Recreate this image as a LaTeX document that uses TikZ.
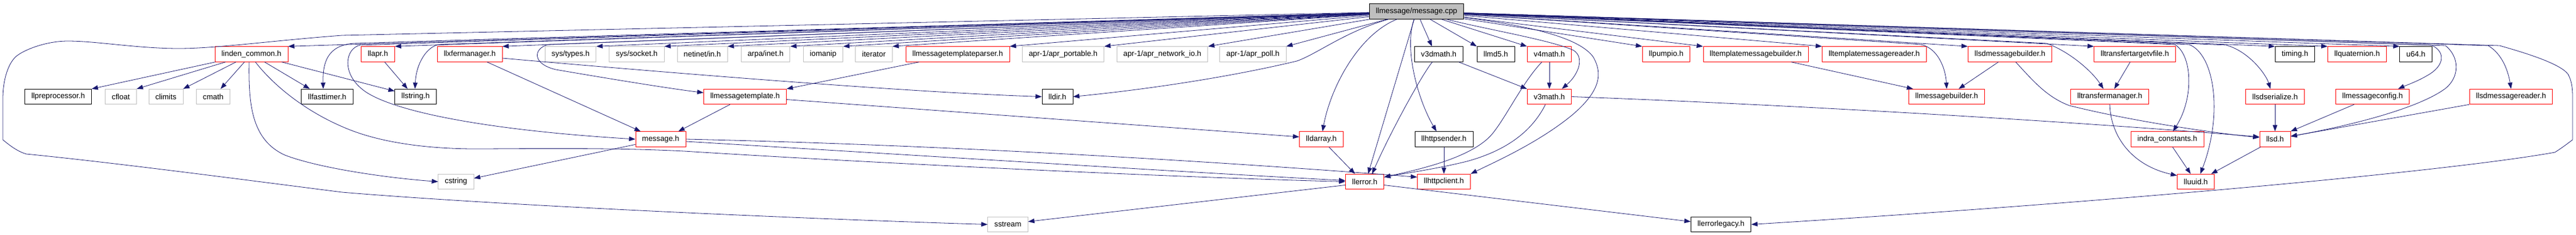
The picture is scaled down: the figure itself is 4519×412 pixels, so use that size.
\documentclass[tikz,border=0pt]{standalone}
\usepackage{fontspec}
\setmainfont{Liberation Sans}
\usetikzlibrary{arrows.meta}
\definecolor{edgeblue}{RGB}{25,25,112}
\definecolor{sysgray}{RGB}{191,191,191}
\begin{document}
\begin{tikzpicture}[x=1pt,y=-1pt,
  box/.style={draw, line width=0.9pt, inner xsep=11.5pt, inner ysep=0pt, minimum height=26.5pt, font=\fontsize{13.3}{15}\selectfont, text=black},
  redbox/.style={box, draw=red},
  blkbox/.style={box, draw=black},
  grybox/.style={box, draw=sysgray},
  rootbox/.style={box, draw=black, fill=sysgray},
  edge/.style={draw=edgeblue, line width=0.8pt, -{Triangle[length=11pt,width=8pt]}}
]
\useasboundingbox (0,0) rectangle (4519,412);
% root
\node[rootbox] (root) at (2485,20) {llmessage/message.cpp};
% row 1
\node[redbox] (lc) at (441,95) {linden\_common.h};
\node[redbox] (apr) at (663,95) {llapr.h};
\node[redbox] (xfer) at (824,95) {llxfermanager.h};
\node[grybox] (systypes) at (1001,95) {sys/types.h};
\node[grybox] (syssock) at (1117,95) {sys/socket.h};
\node[grybox] (netin) at (1232,95) {netinet/in.h};
\node[grybox] (arpa) at (1343,95) {arpa/inet.h};
\node[grybox] (iomanip) at (1444,95) {iomanip};
\node[grybox] (iterator) at (1533,95) {iterator};
\node[redbox] (mtp) at (1680,95) {llmessagetemplateparser.h};
\node[grybox] (aprport) at (1865,95) {apr-1/apr\_portable.h};
\node[grybox] (aprnet) at (2039,95) {apr-1/apr\_network\_io.h};
\node[grybox] (aprpoll) at (2198,95) {apr-1/apr\_poll.h};
\node[blkbox] (v3d) at (2524,95) {v3dmath.h};
\node[blkbox] (md5) at (2624,95) {llmd5.h};
\node[redbox] (v4) at (2718,95) {v4math.h};
\node[redbox] (pump) at (2923,95) {llpumpio.h};
\node[redbox] (tmb) at (3080,95) {lltemplatemessagebuilder.h};
\node[redbox] (tmr) at (3288,95) {lltemplatemessagereader.h};
\node[redbox] (sdmb) at (3526,95) {llsdmessagebuilder.h};
\node[redbox] (ttv) at (3745,95) {lltransfertargetvfile.h};
\node[blkbox] (timing) at (4026,95) {timing.h};
\node[redbox] (quat) at (4135,95) {llquaternion.h};
\node[blkbox] (u64) at (4238,95) {u64.h};
% row 2
\node[blkbox] (pre) at (102,169.5) {llpreprocessor.h};
\node[grybox] (cfloat) at (212,169.5) {cfloat};
\node[grybox] (climits) at (291,169.5) {climits};
\node[grybox] (cmath) at (374,169.5) {cmath};
\node[blkbox] (fast) at (574,169.5) {llfasttimer.h};
\node[blkbox] (str) at (729,169.5) {llstring.h};
\node[redbox] (mt) at (1307,169.5) {llmessagetemplate.h};
\node[blkbox] (dir) at (1855,169.5) {lldir.h};
\node[redbox] (v3) at (2718,169.5) {v3math.h};
\node[redbox] (mb) at (3415,169.5) {llmessagebuilder.h};
\node[redbox] (tm) at (3701,169.5) {lltransfermanager.h};
\node[redbox] (sdser) at (3991,169.5) {llsdserialize.h};
\node[redbox] (mcfg) at (4162,169.5) {llmessageconfig.h};
\node[redbox] (sdmr) at (4405,169.5) {llsdmessagereader.h};
% row 3
\node[redbox] (msgh) at (1159,244) {message.h};
\node[redbox] (darray) at (2318,244) {lldarray.h};
\node[blkbox] (hsend) at (2533,244) {llhttpsender.h};
\node[redbox] (indra) at (3802,244) {indra\_constants.h};
\node[redbox] (llsd) at (3991,244) {llsd.h};
% row 4
\node[grybox] (cstring) at (800,318.5) {cstring};
\node[redbox] (err) at (2394,318.5) {llerror.h};
\node[redbox] (hclient) at (2533,318.5) {llhttpclient.h};
\node[redbox] (uuid) at (3852,318.5) {lluuid.h};
% row 5
\node[grybox] (sstream) at (1768,393.5) {sstream};
\node[blkbox] (errleg) at (3019,393.5) {llerrorlegacy.h};

% root -> top row (straight)
\foreach \t in {lc,apr,xfer,systypes,syssock,netin,arpa,iomanip,iterator,mtp,aprport,aprnet,aprpoll}
  \draw[edge] (root) -- (\t.north east);
\foreach \t in {md5,v4,pump,tmb,tmr,sdmb,ttv,timing,quat,u64}
  \draw[edge] (root) -- (\t.north west);
\draw[edge] (root) -- ([xshift=-12pt]v3d.north);

% root -> lower nodes (curved)
\draw[edge] (root) -- (620,76) .. controls (574,80) and (566,110) .. ([xshift=-7pt]fast.north);
\draw[edge] (root) -- (770,78) .. controls (748,82) and (730,112) .. ([xshift=-1pt]str.north);
\draw[edge] (root) -- (632,79) .. controls (605,85) and (598,130) .. (640,160) .. controls (690,195) and (850,228) .. (msgh.west);
\draw[edge] (root) -- (962,78) .. controls (935,85) and (933,112) .. (975,122) .. controls (1080,140) and (1180,156) .. ([yshift=7pt]mt.west);
\draw[edge] (root) -- (600,62) .. controls (480,71) and (380,85) .. (314,85) .. controls (240,85) and (170,72) .. (119,72) .. controls (80,72) and (40,88) .. (27,100) .. controls (12,115) and (5,145) .. (5,173) -- (5,245) .. controls (18,256) and (32,266) .. (46,270) .. controls (200,285) and (450,318) .. (600,337) .. controls (900,362) and (1450,385) .. (sstream.west);
\draw[edge] (root) .. controls (2360,55) and (2310,95) .. (2275,107) .. controls (2150,137) and (2000,158) .. (dir.east);
\draw[edge] (root) .. controls (2385,60) and (2335,150) .. ([xshift=2pt]darray.north);
\draw[edge] (root) -- ([xshift=6pt]err.north);
\draw[edge] (root) .. controls (2462,90) and (2490,180) .. ([xshift=-13pt]hsend.north);
\draw[edge] (root) .. controls (2600,50) and (2720,70) .. (2760,88) .. controls (2780,100) and (2770,130) .. ([xshift=22pt]v3.north);
\draw[edge] (root) .. controls (2680,45) and (2770,65) .. (2795,100) .. controls (2815,135) and (2800,165) .. (2760,200) .. controls (2700,250) and (2620,285) .. (hclient.north east);
\draw[edge] (root) -- (3370,78) .. controls (3400,85) and (3413,120) .. (mb.north);
\draw[edge] (root) -- (3590,76) .. controls (3630,90) and (3670,125) .. ([xshift=-11pt]tm.north);
\draw[edge] (root) -- (3815,78) .. controls (3845,95) and (3850,170) .. ([xshift=10pt]indra.north);
\draw[edge] (root) -- (3840,78) .. controls (3885,95) and (3900,200) .. ([xshift=8pt]uuid.north);
\draw[edge] (root) -- (3905,79) .. controls (3945,90) and (3975,130) .. ([xshift=-8pt]sdser.north);
\draw[edge] (root) -- (4265,79) .. controls (4290,90) and (4290,115) .. (4257,133) .. controls (4240,143) and (4220,150) .. ([xshift=45pt]mcfg.north);
\draw[edge] (root) -- (4290,80) .. controls (4315,100) and (4315,135) .. (4290,155) .. controls (4250,185) and (4150,215) .. ([yshift=5pt]llsd.east);
\draw[edge] (root) -- (4365,80) .. controls (4390,95) and (4400,125) .. (sdmr.north);
\draw[edge] (root) -- (4385,80) .. controls (4420,90) and (4490,110) .. (4505,130) .. controls (4513,145) and (4513,160) .. (4513,175) -- (4513,245) .. controls (4500,255) and (4490,262) .. (4482,267) .. controls (4300,300) and (3700,355) .. (errleg.east);

% linden_common.h
\draw[edge] (lc) -- (pre.north east);
\draw[edge] (lc) -- (cfloat.north east);
\draw[edge] (lc) -- (climits.north east);
\draw[edge] (lc) -- ([xshift=13pt]cmath.north);
\draw[edge] (lc) -- ([xshift=15pt]fast.north west);
\draw[edge] (lc) -- ([yshift=-4pt]str.north west);
\draw[edge] ([xshift=-4pt]lc.south) .. controls (436,180) and (440,245) .. (500,272) .. controls (560,295) and (680,312) .. (cstring.west);
\draw[edge] ([xshift=7pt]lc.south) .. controls (480,150) and (540,200) .. (620,230) .. controls (680,252) and (760,262) .. (850,261) .. controls (1000,260) and (1100,260) .. (1200,265) .. controls (1600,290) and (2100,312) .. (err.west);

% others
\draw[edge] (apr) -- ([xshift=-14pt]str.north);
\draw[edge] (xfer) -- ([xshift=-35pt]msgh.north);
\draw[edge] ([yshift=-7pt]xfer.east) .. controls (1200,130) and (1600,162) .. (dir.west);
\draw[edge] (mtp) -- (mt.north east);
\draw[edge] (mt) -- ([xshift=31pt]msgh.north);
\draw[edge] ([yshift=-5pt]mt.east) -- ([yshift=4pt]darray.west);
\draw[edge] (msgh) -- ([yshift=6pt]cstring.east);
\draw[edge] (msgh.east) .. controls (1700,255) and (2200,288) .. ([yshift=8pt]hclient.west);
\draw[edge] ([yshift=-4pt]msgh.east) .. controls (1700,278) and (2100,303) .. ([yshift=2pt]err.west);
\draw[edge] (darray) -- ([xshift=-17pt]err.north);
\draw[edge] ([yshift=-6pt]err.east) -- ([yshift=5pt]errleg.west);
\draw[edge] ([yshift=-6pt]err.west) -- ([yshift=5pt]sstream.east);
\draw[edge] (v3d) -- (v3.north west);
\draw[edge] (v3d) .. controls (2495,130) and (2440,230) .. ([xshift=13pt]err.north);
\draw[edge] (v4) -- (v3);
\draw[edge] (v4) .. controls (2670,145) and (2640,210) .. (2615,238) .. controls (2580,275) and (2500,295) .. ([yshift=8pt]err.east);
\draw[edge] (v3) .. controls (2690,225) and (2650,262) .. (2573,283) .. controls (2520,296) and (2470,303) .. ([yshift=8pt]err.east);
\draw[edge] (v3.east) .. controls (3100,182) and (3600,210) .. ([yshift=4pt]llsd.west);
\draw[edge] (hsend) -- (hclient);
\draw[edge] (tmb) -- ([xshift=8pt]mb.north west);
\draw[edge] (sdmb) -- ([xshift=21pt]mb.north);
\draw[edge] ([xshift=10pt]sdmb.south) .. controls (3565,140) and (3590,170) .. (3630,185) .. controls (3750,215) and (3900,235) .. ([yshift=3pt]llsd.west);
\draw[edge] (ttv) -- ([xshift=8pt]tm.north);
\draw[edge] (tm.south) .. controls (3703,240) and (3740,290) .. ([yshift=-3pt]uuid.north west);
\draw[edge] (indra) -- ([xshift=-9pt]uuid.north);
\draw[edge] (llsd) -- ([xshift=27pt]uuid.north);
\draw[edge] (sdser) -- (llsd);
\draw[edge] (mcfg) -- (llsd.north east);
\draw[edge] (sdmr.south west) -- ([yshift=5pt]llsd.east);
\end{tikzpicture}
\end{document}
